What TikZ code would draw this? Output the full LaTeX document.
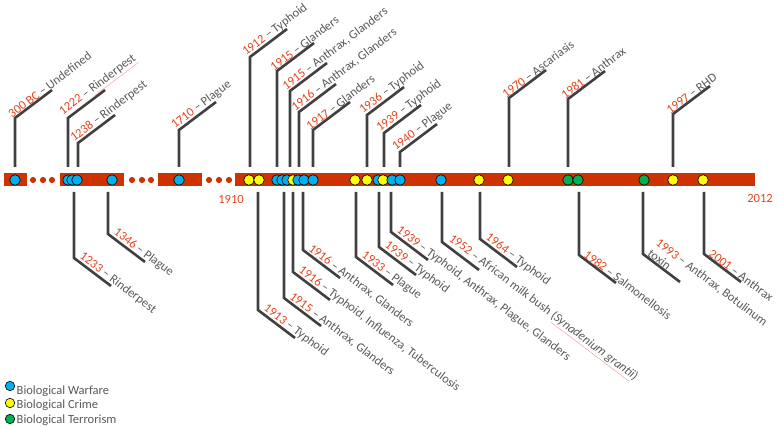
\documentclass[tikz,border=0pt]{standalone}
\usepackage{fontspec}
\setmainfont{Carlito}
\usetikzlibrary{calc}
\definecolor{barc}{RGB}{204,51,0}
\definecolor{yearc}{RGB}{228,68,30}
\definecolor{labc}{RGB}{89,89,89}
\definecolor{linec}{RGB}{64,64,64}
\definecolor{warc}{RGB}{0,176,240}
\definecolor{crimec}{RGB}{255,255,0}
\definecolor{terrc}{RGB}{0,176,80}
\definecolor{squigc}{RGB}{240,150,150}
\newcommand\yr[1]{\textcolor{yearc}{#1}}
\newcommand\squig[1]{\textcolor{squigc}{\underline{\textcolor{labc}{#1}}}}
\tikzset{
  conn/.style={draw=linec, line width=2.6pt},
  lab/.style={sloped, anchor=south west, inner sep=1pt, text=labc, align=left,
    font=\fontsize{12.5}{13.5}\selectfont},
  toplab/.style={lab, pos=-0.08},
  botlab/.style={lab, pos=0.06},
  ev/.style={circle, draw=black, line width=0.6pt, minimum size=10.5pt, inner sep=0pt},
  legdot/.style={circle, draw=black, line width=0.6pt, minimum size=9.5pt, inner sep=0pt},
  legtext/.style={anchor=west, inner sep=0pt, text=labc, font=\fontsize{12.5}{13.5}\selectfont},
  axis/.style={text=yearc, inner sep=0pt, font=\fontsize{12.5}{13.5}\selectfont},
  bar/.style={fill=barc},
  gapdot/.style={fill=barc}
}
\begin{document}
\begin{tikzpicture}[x=1pt, y=-1pt]
\useasboundingbox (0,0) rectangle (778,427);

% bar segments
\fill[bar] (4,173) rectangle (27,186);
\fill[bar] (60,173) rectangle (124,186);
\fill[bar] (158,173) rectangle (202,186);
\fill[bar] (235,173) rectangle (755,186);
\foreach \x in {33,43,52,132,142,151,209,219,229}
  \fill[gapdot] (\x,180) circle (3.1pt);

% top connectors and labels
\foreach \x/\cy/\yrt/\txt [count=\i] in {
  15/118/{300 BC}/{Undefined},
  68/118/{1222}/{\squig{Rinderpest}},
  78/143/{1238}/{Rinderpest},
  179/130/{1710}/{Plague},
  250/57/{1912}/{Typhoid},
  277/71/{1915}/{Glanders},
  290/91/{1915}/{Anthrax, Glanders},
  299/112/{1916}/{Anthrax, Glanders},
  313/130/{1917}/{Glanders},
  367/115/{1936}/{Typhoid},
  384/133/{1939}/{Typhoid},
  400/152/{1940}/{Plague},
  509/98/{1970}/{Ascariasis},
  568/99/{1981}/{Anthrax},
  673/114/{1997}/{RHD}}
{
  \coordinate (tb\i) at (\x,167);
  \coordinate (tc\i) at (\x,\cy);
  \coordinate (te\i) at ($(tc\i)+(37,-28)$);
  \draw[conn] (tb\i) -- (tc\i) -- (te\i);
  \path (tc\i) -- (te\i) node[toplab] (tl\i) {\yr{\yrt} – \txt};
}

% bottom connectors and labels
\foreach \x/\cy/\yrt/\txt [count=\i] in {
  74/258/{1233}/{Rinderpest},
  108/234/{1346}/{Plague},
  258/310/{1913}/{Typhoid},
  284/298/{1915}/{Anthrax, Glanders},
  293/272/{1916}/{Typhoid, Influenza, Tuberculosis},
  303/250/{1916}/{Anthrax, Glanders},
  356/257/{1933}/{Plague},
  379/247/{1939}/{Typhoid},
  391/232/{1939}/{Typhoid, Anthrax, Plague, Glanders},
  442/242/{1952}/{African milk bush (\squig{\textit{Synadenium grantii}})},
  480/239/{1964}/{Typhoid},
  579/255/{1982}/{Salmonellosis},
  643/254/{1993}/{Anthrax, Botulinum\\toxin},
  704/254/{2001}/{Anthrax}}
{
  \coordinate (bb\i) at (\x,192);
  \coordinate (bc\i) at (\x,\cy);
  \coordinate (be\i) at ($(bc\i)+(37,28)$);
  \draw[conn] (bb\i) -- (bc\i) -- (be\i);
  \path (bc\i) -- (be\i) node[botlab] (bl\i) {\yr{\yrt} – \txt};
}

% event markers
\foreach \x/\c [count=\i] in {
  15/warc, 68/warc, 72/warc, 77/warc, 112/warc, 179/warc,
  249/crimec, 259/crimec, 277/warc, 282/warc, 287/warc, 293/crimec,
  298/warc, 304/warc, 313/warc,
  355/crimec, 367/crimec, 378/warc, 383/crimec, 392/warc, 400/warc,
  441/warc, 479/crimec, 508/crimec, 568/terrc, 578/terrc, 644/terrc,
  673/crimec, 703/crimec}
  \node[ev, fill=\c] (ev\i) at (\x,180) {};

% axis years
\node[axis] (y1910) at (231,199) {1910};
\node[axis] (y2012) at (760,198) {2012};

% legend
\node[legdot, fill=warc] (lw) at (10,386) {};
\node[legtext] (lwt) at (16.5,391) {Biological Warfare};
\node[legdot, fill=crimec] (lc) at (10,403) {};
\node[legtext] (lct) at (16.5,405.5) {Biological Crime};
\node[legdot, fill=terrc] (lt) at (10,419) {};
\node[legtext] (ltt) at (16.5,420.5) {Biological Terrorism};
\end{tikzpicture}
\end{document}
